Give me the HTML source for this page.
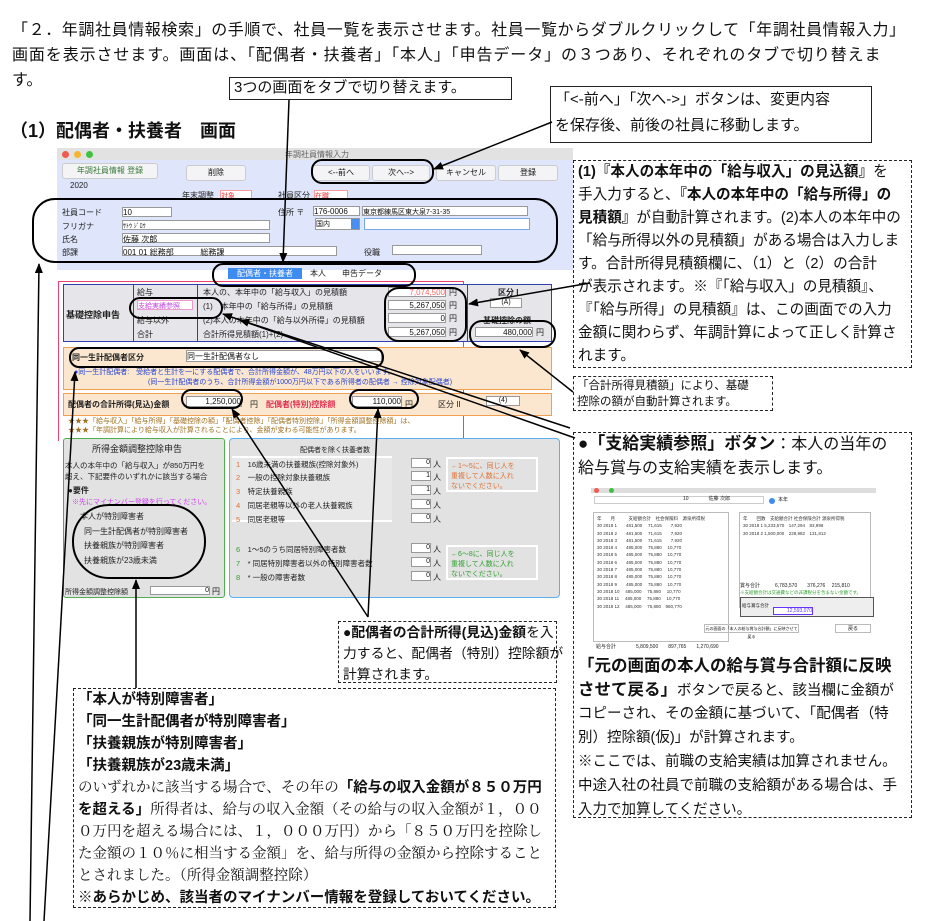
<!DOCTYPE html>
<html><head><meta charset="utf-8">
<style>
*{margin:0;padding:0;box-sizing:border-box}
body{width:933px;height:921px;background:#fff;position:relative;overflow:hidden;font-family:"Liberation Sans","Noto Sans CJK JP",sans-serif;color:#111}
.a{position:absolute;white-space:nowrap}
.dash{position:absolute;border:1.5px dashed #222;background:#fff}
.box{position:absolute;border:1.5px solid #222;background:#fff}
.ln{position:absolute;left:4px;white-space:nowrap}
.s{font-size:8px;position:absolute;white-space:nowrap;color:#222}
.f{position:absolute;background:#fff;border:1px solid #999}
.btn{position:absolute;background:#f4f4f6;border:1px solid #ccc;border-radius:3px;font-size:8px;text-align:center;line-height:14px}
b{font-weight:bold}
</style></head><body>

<div class="a" style="left:12px;top:16px;font-size:16px;letter-spacing:0.6px">「２．年調社員情報検索」の手順で、社員一覧を表示させます。社員一覧からダブルクリックして「年調社員情報入力」</div>
<div class="a" style="left:12px;top:41px;font-size:16px;letter-spacing:0.9px">画面を表示させます。画面は、「配偶者・扶養者」「本人」「申告データ」の３つあり、それぞれのタブで切り替えま</div>
<div class="a" style="left:12px;top:66px;font-size:16px">す。</div>

<div class="box" style="left:229px;top:77px;width:283px;height:23px;font-size:15px;padding-left:4px;line-height:20px">3つの画面をタブで切り替えます。</div>
<div class="box" style="left:550px;top:86px;width:322px;height:57px;font-size:15px;padding-left:4px;line-height:26px">「&lt;-前へ」「次へ-&gt;」ボタンは、変更内容<br>を保存後、前後の社員に移動します。</div>
<div class="a" style="left:10px;top:117px;font-size:18px;font-weight:bold">（1）配偶者・扶養者　画面</div>

<!-- window -->
<div style="position:absolute;left:57px;top:148px;width:516px;height:12px;background:#e2e2e2"></div>
<div style="position:absolute;left:62px;top:151px;width:7px;height:7px;border-radius:50%;background:#f05a50"></div>
<div style="position:absolute;left:74px;top:151px;width:7px;height:7px;border-radius:50%;background:#f5b731"></div>
<div style="position:absolute;left:86px;top:151px;width:7px;height:7px;border-radius:50%;background:#3fc23f"></div>
<div class="s" style="left:285px;top:149px;color:#666">年調社員情報入力</div>
<div style="position:absolute;left:57px;top:160px;width:516px;height:110px;background:#dfe5fa"></div>
<div class="btn" style="left:62px;top:163px;width:96px;color:#3a7a3a">年調社員情報 登録</div>
<div class="btn" style="left:186px;top:165px;width:60px">削除</div>
<div class="btn" style="left:312px;top:165px;width:58px">&lt;--前へ</div>
<div class="btn" style="left:372px;top:165px;width:58px">次へ--&gt;</div>
<div class="btn" style="left:436px;top:165px;width:60px">キャンセル</div>
<div class="btn" style="left:498px;top:165px;width:60px">登録</div>
<div class="s" style="left:70px;top:181px">2020</div>
<div class="s" style="left:182px;top:190px">年末調整</div><div class="f" style="left:220px;top:190px;width:32px;height:9px;border-color:#f99;font-size:7px;color:#e33">対象</div>
<div class="s" style="left:278px;top:190px">社員区分</div><div class="f" style="left:314px;top:190px;width:34px;height:9px;border-color:#f99;font-size:7px;color:#e33">在職</div>
<div class="s" style="left:62px;top:207px">社員コード</div><div class="f" style="left:122px;top:207px;width:50px;height:10px;font-size:8px">10</div>
<div class="s" style="left:62px;top:221px">フリガナ</div><div class="f" style="left:122px;top:220px;width:148px;height:10px;font-size:6px">ｻﾄｳ ｼﾞﾛｳ</div>
<div class="s" style="left:62px;top:234px">氏名</div><div class="f" style="left:122px;top:233px;width:148px;height:10px;font-size:8px">佐藤 次郎</div>
<div class="s" style="left:62px;top:247px">部課</div><div class="f" style="left:122px;top:246px;width:215px;height:10px;font-size:8px">001 01 総務部 &nbsp;&nbsp;&nbsp;&nbsp;&nbsp;&nbsp;&nbsp;&nbsp;&nbsp;&nbsp;&nbsp;総務課</div>
<div class="s" style="left:278px;top:207px">住所 〒</div><div class="f" style="left:313px;top:206px;width:47px;height:10px;font-size:8px">176-0006</div>
<div class="f" style="left:362px;top:206px;width:166px;height:10px;font-size:7px">東京都練馬区東大泉7-31-35</div>
<div class="f" style="left:315px;top:218px;width:45px;height:12px;font-size:7px">国内<span style="float:right;background:#4a8ff0;width:8px;height:10px"></span></div>
<div class="f" style="left:364px;top:218px;width:166px;height:12px;border:1.5px solid #7aa6f0"></div>
<div class="s" style="left:364px;top:247px">役職</div><div class="f" style="left:392px;top:245px;width:90px;height:10px"></div>

<!-- tabs -->
<div style="position:absolute;left:228px;top:268px;width:74px;height:11px;background:#3f8cf0;color:#fff;font-size:8px;text-align:center;line-height:11px">配偶者・扶養者</div>
<div class="s" style="left:310px;top:268px">本人</div><div class="s" style="left:342px;top:268px">申告データ</div>
<div style="position:absolute;left:58px;top:281px;width:406px;height:160px;border:1.5px solid #f04070;border-bottom:none"></div>

<!-- kiso table -->
<div style="position:absolute;left:63px;top:284px;width:489px;height:58px;border:1.5px solid #3040b0;background:#e6e6ea"></div>
<div style="position:absolute;left:133px;top:284px;width:1px;height:58px;background:#3040b0"></div>
<div style="position:absolute;left:197px;top:284px;width:1px;height:58px;background:#3040b0"></div>
<div style="position:absolute;left:467px;top:284px;width:1px;height:58px;background:#3040b0"></div>
<div class="s" style="left:66px;top:308px;font-weight:bold;font-size:9px">基礎控除申告</div>
<div class="s" style="left:137px;top:287px">給与</div><div class="s" style="left:137px;top:315px">給与以外</div><div class="s" style="left:137px;top:329px">合計</div>
<div class="f" style="left:137px;top:300px;width:56px;height:10px;font-size:7px;color:#c040e0;border-color:#e9c">支給実績参照</div>
<div class="s" style="left:203px;top:287px">本人の、本年中の「給与収入」の見積額</div>
<div class="s" style="left:203px;top:301px">(1)　本年中の「給与所得」の見積額</div>
<div class="s" style="left:203px;top:315px">(2)本人の本年中の「給与以外所得」の見積額</div>
<div class="s" style="left:203px;top:329px">合計所得見積額(1)+(2)</div>
<div class="f" style="left:388px;top:287px;width:58px;height:10px;font-size:8px;text-align:right;color:#f66">7,074,500</div>
<div class="f" style="left:388px;top:300px;width:58px;height:10px;font-size:8px;text-align:right">5,267,050</div>
<div class="f" style="left:388px;top:313px;width:58px;height:10px;font-size:8px;text-align:right">0</div>
<div class="f" style="left:388px;top:327px;width:58px;height:10px;font-size:8px;text-align:right">5,267,050</div>
<div class="s" style="left:449px;top:287px">円</div><div class="s" style="left:449px;top:300px">円</div><div class="s" style="left:449px;top:313px">円</div><div class="s" style="left:449px;top:327px">円</div>
<div class="s" style="left:498px;top:287px;font-weight:bold">区分 I</div>
<div class="f" style="left:490px;top:298px;width:32px;height:10px;font-size:7px;text-align:center">(A)</div>
<div class="s" style="left:483px;top:315px;font-weight:bold">基礎控除の額</div>
<div class="f" style="left:475px;top:327px;width:58px;height:10px;font-size:8px;text-align:right">480,000</div><div class="s" style="left:536px;top:327px">円</div>

<!-- orange -->
<div style="position:absolute;left:63px;top:347px;width:489px;height:43px;border:1.5px solid #f0a050;background:#fbe7d0"></div>
<div class="s" style="left:72px;top:352px;font-weight:bold">同一生計配偶者区分</div>
<div class="f" style="left:186px;top:350px;width:196px;height:12px;font-size:8px">同一生計配偶者なし</div>
<div class="s" style="left:74px;top:367px;color:#2844d0;font-size:7px">●同一生計配偶者:　受給者と生計を一にする配偶者で、合計所得金額が、48万円以下の人をいいます。</div>
<div class="s" style="left:148px;top:377px;color:#2844d0;font-size:7px">(同一生計配偶者のうち、合計所得金額が1000万円以下である所得者の配偶者 → 控除対象配偶者)</div>
<div style="position:absolute;left:63px;top:393px;width:489px;height:23px;border:1.5px solid #f0a050;background:#fbe7d0"></div>
<div class="s" style="left:68px;top:399px;font-weight:bold">配偶者の合計所得(見込)金額</div>
<div class="f" style="left:186px;top:396px;width:56px;height:11px;font-size:8px;text-align:right">1,250,000</div><div class="s" style="left:250px;top:399px">円</div>
<div class="s" style="left:266px;top:399px;color:#e03050;font-weight:bold">配偶者(特別)控除額</div>
<div class="f" style="left:352px;top:396px;width:50px;height:11px;font-size:8px;text-align:right">110,000</div><div class="s" style="left:405px;top:399px">円</div>
<div class="s" style="left:438px;top:399px">区分 II</div><div class="f" style="left:486px;top:396px;width:34px;height:10px;font-size:7px;text-align:center">(4)</div>
<div class="s" style="left:68px;top:416px;color:#a07020;font-size:7px">★★★「給与収入」「給与所得」「基礎控除の額」「配偶者控除」「配偶者特別控除」「所得金額調整控除額」は、</div>
<div class="s" style="left:68px;top:425px;color:#a07020;font-size:7px">★★★「年調計算により給与収入が計算されることにより、金額が変わる可能性があります。</div>

<!-- lower panels -->
<div style="position:absolute;left:63px;top:438px;width:162px;height:160px;border:1.5px solid #50b050;background:#e2e2e2;border-radius:3px"></div>
<div class="s" style="left:92px;top:442px;font-size:9px">所得金額調整控除申告</div>
<div class="s" style="left:65px;top:460px;font-size:7.5px">本人の本年中の「給与収入」が850万円を</div>
<div class="s" style="left:65px;top:471px;font-size:7.5px">超え、下記要件のいずれかに該当する場合</div>
<div class="s" style="left:68px;top:485px;font-weight:bold">●要件</div>
<div class="s" style="left:72px;top:497px;color:#d040f0;font-size:7px">※先にマイナンバー登録を行ってください。</div>
<div class="s" style="left:80px;top:511px">本人が特別障害者</div>
<div class="s" style="left:84px;top:526px">同一生計配偶者が特別障害者</div>
<div class="s" style="left:84px;top:540px">扶養親族が特別障害者</div>
<div class="s" style="left:84px;top:555px">扶養親族が23歳未満</div>
<div class="s" style="left:65px;top:587px;font-size:7px">所得金額調整控除額</div>
<div class="f" style="left:150px;top:586px;width:60px;height:9px;font-size:7px;text-align:right">0</div><div class="s" style="left:212px;top:586px">円</div>
<div style="position:absolute;left:229px;top:438px;width:331px;height:160px;border:1.5px solid #5ab0f0;background:#e2e2e2;border-radius:4px"></div>
<div class="s" style="left:300px;top:445px;font-size:7px">配偶者を除く扶養者数</div>
<div style="position:absolute;left:232px;top:456px;width:160px;height:66px;background:#e8e8e8;border-top:2px solid #fff;border-bottom:2px solid #fff"></div>
<div class="s" style="left:236px;top:459px;font-size:7.5px"><span style="color:#e07030">1</span>　16歳未満の扶養親族(控除対象外)</div>
<div class="s" style="left:236px;top:472px;font-size:7.5px"><span style="color:#e07030">2</span>　一般の控除対象扶養親族</div>
<div class="s" style="left:236px;top:486px;font-size:7.5px"><span style="color:#e07030">3</span>　特定扶養親族</div>
<div class="s" style="left:236px;top:500px;font-size:7.5px"><span style="color:#e07030">4</span>　同居老親等以外の老人扶養親族</div>
<div class="s" style="left:236px;top:514px;font-size:7.5px"><span style="color:#e07030">5</span>　同居老親等</div>
<div class="s" style="left:236px;top:544px;font-size:7.5px"><span style="color:#30a030">6</span>　1～5のうち同居特別障害者数</div>
<div class="s" style="left:236px;top:558px;font-size:7.5px"><span style="color:#30a030">7</span>　* 同居特別障害者以外の特別障害者数</div>
<div class="s" style="left:236px;top:572px;font-size:7.5px"><span style="color:#30a030">8</span>　* 一般の障害者数</div>
<div class="f" style="left:411px;top:458px;width:20px;height:10px;font-size:7px;text-align:right">0</div><div class="s" style="left:433px;top:459px">人</div>
<div class="f" style="left:411px;top:471px;width:20px;height:10px;font-size:7px;text-align:right">1</div><div class="s" style="left:433px;top:472px">人</div>
<div class="f" style="left:411px;top:485px;width:20px;height:10px;font-size:7px;text-align:right">1</div><div class="s" style="left:433px;top:486px">人</div>
<div class="f" style="left:411px;top:499px;width:20px;height:10px;font-size:7px;text-align:right">0</div><div class="s" style="left:433px;top:500px">人</div>
<div class="f" style="left:411px;top:513px;width:20px;height:10px;font-size:7px;text-align:right">0</div><div class="s" style="left:433px;top:514px">人</div>
<div class="f" style="left:411px;top:543px;width:20px;height:10px;font-size:7px;text-align:right">0</div><div class="s" style="left:433px;top:544px">人</div>
<div class="f" style="left:411px;top:557px;width:20px;height:10px;font-size:7px;text-align:right">0</div><div class="s" style="left:433px;top:558px">人</div>
<div class="f" style="left:411px;top:571px;width:20px;height:10px;font-size:7px;text-align:right">0</div><div class="s" style="left:433px;top:572px">人</div>
<div style="position:absolute;left:446px;top:457px;width:92px;height:35px;border:2px solid #fff;font-size:7px;color:#e07030;padding:3px;line-height:10px">←1～5に、同じ人を<br>重複して人数に入れ<br>ないでください。</div>
<div style="position:absolute;left:446px;top:545px;width:92px;height:35px;border:2px solid #fff;font-size:7px;color:#30a030;padding:3px;line-height:10px">←6～8に、同じ人を<br>重複して人数に入れ<br>ないでください。</div>

<!-- right texts -->
<div class="dash" style="left:573px;top:160px;width:339px;height:208px;font-size:14.6px;line-height:23px;padding-top:0">
<div class="ln" style="top:0"><b>(1)『本人の本年中の「給与収入」の見込額』</b>を</div>
<div class="ln" style="top:23px">手入力すると、<b>『本人の本年中の「給与所得」の</b></div>
<div class="ln" style="top:46px"><b>見積額』</b>が自動計算されます。(2)本人の本年中の</div>
<div class="ln" style="top:69px">「給与所得以外の見積額」がある場合は入力しま</div>
<div class="ln" style="top:92px">す。合計所得見積額欄に、（1）と（2）の合計</div>
<div class="ln" style="top:115px">が表示されます。※『「給与収入」の見積額』、</div>
<div class="ln" style="top:138px">『「給与所得」の見積額』は、この画面での入力</div>
<div class="ln" style="top:161px">金額に関わらず、年調計算によって正しく計算さ</div>
<div class="ln" style="top:184px">れます。</div>
</div>
<div class="dash" style="left:573px;top:376px;width:200px;height:35px;font-size:11.5px;line-height:16px;padding:1px 3px">「合計所得見積額」により、基礎<br>控除の額が自動計算されます。</div>

<div class="dash" style="left:573px;top:432px;width:339px;height:386px;font-size:16px">
<div class="ln" style="top:0;line-height:22px"><b style="font-size:17px">●「支給実績参照」ボタン</b>：本人の当年の</div>
<div class="ln" style="top:25px;line-height:22px">給与賞与の支給実績を表示します。</div>
<div class="ln" style="top:221px;line-height:24px"><b style="font-size:16.5px">「元の画面の本人の給与賞与合計額に反映</b></div>
<div class="ln" style="top:245px;line-height:24px;font-size:14.5px"><b style="font-size:16.5px">させて戻る」</b>ボタンで戻ると、該当欄に金額が</div>
<div class="ln" style="top:269px;line-height:24px;font-size:14.5px">コピーされ、その金額に基づいて、「配偶者（特</div>
<div class="ln" style="top:293px;line-height:24px;font-size:14.5px">別）控除額(仮)」が計算されます。</div>
<div class="ln" style="top:317px;line-height:24px;font-size:14.5px">※ここでは、前職の支給実績は加算されません。</div>
<div class="ln" style="top:341px;line-height:24px;font-size:14.5px">中途入社の社員で前職の支給額がある場合は、手</div>
<div class="ln" style="top:365px;line-height:24px;font-size:14.5px">入力で加算してください。</div>
</div>

<!-- small screenshot -->
<div style="position:absolute;left:591px;top:488px;width:285px;height:5px;background:#ddd"></div>
<div style="position:absolute;left:594px;top:488px;width:5px;height:5px;border-radius:50%;background:#f05a50"></div>
<div style="position:absolute;left:609px;top:488px;width:5px;height:5px;border-radius:50%;background:#3fc23f"></div>
<div style="position:absolute;left:594px;top:496px;width:170px;height:8px;border:1px solid #ccc"></div>
<div class="s" style="left:683px;top:495px;font-size:5px">10　　　　佐藤 次郎</div>
<div style="position:absolute;left:769px;top:498px;width:6px;height:6px;border-radius:50%;background:#3f8cf0"></div>
<div class="s" style="left:778px;top:496px;font-size:5px">本年</div>
<div style="position:absolute;left:593px;top:512px;width:136px;height:130px;border:1px solid #bbb;background:#fff;font-size:4.5px;line-height:7.3px;padding:2px 3px;color:#333;white-space:pre">年　　月　　　支給額合計　社会保険料　源泉所得税
30 2018 1　　481,500　 71,615　　7,920
30 2018 2　　481,500　 71,615　　7,920
30 2018 3　　481,500　 71,615　　7,920
30 2018 4　　485,000　 75,880　 10,770
30 2018 5　　485,000　 75,880　 10,770
30 2018 6　　485,000　 75,880　 10,770
30 2018 7　　485,000　 75,880　 10,770
30 2018 8　　485,000　 75,880　 10,770
30 2018 9　　485,000　 75,880　 10,770
30 2018 10　 485,000　 75,880　 10,770
30 2018 11　 485,000　 75,880　 10,770
30 2018 12　 485,000　 75,880　960,770</div>
<div class="s" style="left:596px;top:643px;font-size:5px">給与合計　　　　5,809,500　　897,765　　1,270,690</div>
<div style="position:absolute;left:739px;top:512px;width:132px;height:96px;border:1px solid #bbb;background:#fff;font-size:4.5px;line-height:7.3px;padding:2px 3px;color:#333;white-space:pre">年　　回数　支給額合計 社会保険合計 源泉所得税
30 2018 1 5,233,570　147,294　83,998
30 2018 2 1,500,000　228,982　131,812</div>
<div class="s" style="left:740px;top:582px;font-size:5px">賞与合計　　　6,783,570　　376,276　 215,810</div>
<div class="s" style="left:740px;top:590px;font-size:4.5px;color:#30a030">※支給額合計は交通費などの非課税分を含まない金額です。</div>
<div style="position:absolute;left:740px;top:597px;width:134px;height:20px;border:1px solid #555;background:#eee"></div>
<div style="position:absolute;left:773px;top:607px;width:40px;height:8px;background:#fff;border:1px solid #63f;font-size:5px;color:#63f;text-align:right">12,593,070</div>
<div class="s" style="left:742px;top:603px;font-size:4.5px">給与賞与合計</div>
<div style="position:absolute;left:704px;top:624px;width:95px;height:9px;border:1px solid #bbb;font-size:4px;line-height:8px;text-align:center">元の画面の「本人の給与賞与合計額」に反映させて戻る</div>
<div style="position:absolute;left:835px;top:624px;width:36px;height:9px;border:1px solid #bbb;font-size:5px;text-align:center">戻る</div>

<div class="dash" style="left:338px;top:621px;width:219px;height:62px;font-size:13.8px;line-height:21px">
<div class="ln" style="top:0"><b>●配偶者の合計所得(見込)金額</b>を入</div>
<div class="ln" style="top:21px">力すると、配偶者（特別）控除額が</div>
<div class="ln" style="top:42px">計算されます。</div>
</div>

<div class="dash" style="left:73px;top:688px;width:483px;height:220px;font-size:14.5px;line-height:22px">
<div class="ln" style="top:0"><b>「本人が特別障害者」</b></div>
<div class="ln" style="top:22px"><b>「同一生計配偶者が特別障害者」</b></div>
<div class="ln" style="top:44px"><b>「扶養親族が特別障害者」</b></div>
<div class="ln" style="top:66px"><b>「扶養親族が23歳未満」</b></div>
<div class="ln" style="top:88px;font-family:'Liberation Serif','Noto Serif CJK SC',serif">のいずれかに該当する場合で、その年の<b style="font-family:'Liberation Sans','Noto Sans CJK JP',sans-serif">「給与の収入金額が８５０万円</b></div>
<div class="ln" style="top:110px;font-family:'Liberation Serif','Noto Serif CJK SC',serif"><b style="font-family:'Liberation Sans','Noto Sans CJK JP',sans-serif">を超える」</b>所得者は、給与の収入金額（その給与の収入金額が１，００</div>
<div class="ln" style="top:132px;font-family:'Liberation Serif','Noto Serif CJK SC',serif">０万円を超える場合には、１，０００万円）から「８５０万円を控除し</div>
<div class="ln" style="top:154px;font-family:'Liberation Serif','Noto Serif CJK SC',serif">た金額の１０％に相当する金額」を、給与所得の金額から控除すること</div>
<div class="ln" style="top:176px;font-family:'Liberation Serif','Noto Serif CJK SC',serif">とされました。（所得金額調整控除）</div>
<div class="ln" style="top:198px"><b>※あらかじめ、該当者のマイナンバー情報を登録しておいてください。</b></div>
</div>

<!-- ovals & arrows -->
<svg width="933" height="921" style="position:absolute;left:0;top:0" fill="none" stroke="#000" stroke-width="2">
<defs><marker id="m" markerWidth="10" markerHeight="8" refX="9" refY="4" orient="auto" markerUnits="userSpaceOnUse"><path d="M0,0L10,4L0,8z" fill="#000" stroke="none"/></marker></defs>
<rect x="33" y="199" width="524" height="63" rx="22"/>
<rect x="312" y="160" width="121" height="23" rx="10"/>
<rect x="213" y="264" width="202" height="22" rx="10"/>
<rect x="130" y="298" width="92" height="20" rx="10"/>
<rect x="385" y="288" width="81" height="53" rx="14"/>
<rect x="470" y="321" width="85" height="26" rx="12"/>
<rect x="70" y="348" width="313" height="19" rx="9"/>
<rect x="182" y="390" width="60" height="18" rx="9"/>
<rect x="350" y="390" width="68" height="18" rx="9"/>
<rect x="73" y="505" width="132" height="73" rx="36"/>
<g stroke-width="1.5">
<line x1="289" y1="100" x2="283" y2="262" marker-end="url(#m)"/>
<line x1="552" y1="122" x2="434" y2="169" marker-end="url(#m)"/>
<line x1="590" y1="283" x2="469" y2="304" marker-end="url(#m)"/>
<line x1="573" y1="392" x2="520" y2="350" marker-end="url(#m)"/>
<line x1="575" y1="438" x2="223" y2="314" marker-end="url(#m)"/>
<line x1="570" y1="428" x2="240" y2="320" marker-end="url(#m)"/>
<line x1="368" y1="617" x2="232" y2="409" marker-end="url(#m)"/>
<line x1="368" y1="617" x2="378" y2="409" marker-end="url(#m)"/>
<line x1="136" y1="688" x2="136" y2="580" marker-end="url(#m)"/>
<line x1="30" y1="921" x2="39" y2="264" marker-end="url(#m)"/>
<line x1="44" y1="921" x2="75" y2="372" marker-end="url(#m)"/>
</g>
</svg>
</body></html>
